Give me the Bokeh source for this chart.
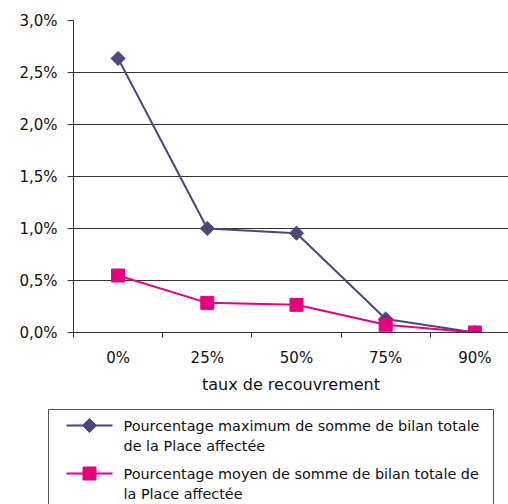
import numpy as np
from bokeh.plotting import figure
from bokeh.models import Range1d, FixedTicker, ColumnDataSource
from bokeh.layouts import column
from bokeh.core.properties import value
from bokeh.embed import file_html
from bokeh.resources import INLINE

categories = ["0%", "25%", "50%", "75%", "90%"]
max_pct = [2.635, 1.0, 0.955, 0.13, 0.0]
mean_pct = [0.548, 0.285, 0.266, 0.074, 0.0]
series_names = ["Pourcentage maximum de somme de bilan totale\nde la Place affectée",
                "Pourcentage moyen de somme de bilan totale de\nla Place affectée"]
y_ticks = [0.0, 0.5, 1.0, 1.5, 2.0, 2.5, 3.0]
y_labels = ["0,0%", "0,5%", "1,0%", "1,5%", "2,0%", "2,5%", "3,0%"]
x_title = "taux de recouvrement"

NAVY = "#4b4778"
PINK = "#e5007d"
GRID = "#333333"
FONT = "DejaVu Sans"

xs = list(range(len(categories)))

p = figure(width=508, height=396, output_backend="svg", toolbar_location=None,
           x_range=Range1d(-0.5, 4.377), y_range=Range1d(0, 3.0),
           min_border_left=73, min_border_right=0, min_border_top=20, min_border_bottom=10)
p.frame_align = False
p.outline_line_color = None
p.background_fill_color = "white"
p.border_fill_color = "white"

p.xgrid.grid_line_color = None
p.ygrid.grid_line_color = GRID
p.ygrid.grid_line_width = 1
p.ygrid.ticker = FixedTicker(ticks=y_ticks)

p.yaxis.ticker = FixedTicker(ticks=y_ticks)
p.yaxis.major_label_overrides = {t: l for t, l in zip(y_ticks, y_labels)}
p.yaxis.major_tick_out = 6
p.yaxis.major_tick_in = 0
p.yaxis.minor_tick_out = 0
p.yaxis.minor_tick_in = 0
p.yaxis.major_label_standoff = 10
p.yaxis.axis_line_color = GRID
p.yaxis.major_tick_line_color = GRID

p.xaxis.ticker = FixedTicker(ticks=xs, minor_ticks=[x - 0.5 for x in xs])
p.xaxis.major_label_overrides = {x: c for x, c in zip(xs, categories)}
p.xaxis.major_tick_out = 0
p.xaxis.major_tick_in = 0
p.xaxis.minor_tick_out = 5
p.xaxis.minor_tick_in = 0
p.xaxis.minor_tick_line_color = GRID
p.xaxis.axis_line_color = GRID
p.xaxis.major_label_standoff = 11
p.xaxis.axis_label = x_title
p.xaxis.axis_label_standoff = 5
p.xaxis.axis_label_text_font_style = "normal"
p.xaxis.axis_label_text_font = FONT
p.xaxis.axis_label_text_font_size = "16px"
p.xaxis.axis_label_text_color = "#111111"

for ax in (p.xaxis, p.yaxis):
    ax.major_label_text_font = FONT
    ax.major_label_text_font_size = "15px"
    ax.major_label_text_color = "#111111"

src = ColumnDataSource(dict(x=xs, mx=max_pct, mn=mean_pct))
p.line("x", "mx", source=src, line_color=NAVY, line_width=2)
p.scatter("x", "mx", source=src, marker="square", angle=np.pi / 4, size=10,
          fill_color=NAVY, line_color=NAVY)
p.line("x", "mn", source=src, line_color=PINK, line_width=2)
p.scatter("x", "mn", source=src, marker="square", size=13,
          fill_color=PINK, line_color=PINK)

# legend drawn in its own panel (canvas pixel coordinates)
lg = figure(width=508, height=108, output_backend="svg", toolbar_location=None,
            x_range=Range1d(0, 508), y_range=Range1d(108, 0),
            min_border=0, min_border_left=0, min_border_right=0,
            min_border_top=0, min_border_bottom=0)
lg.frame_align = False
lg.axis.visible = False
lg.grid.visible = False
lg.outline_line_color = None
lg.quad(left=[48], right=[493], top=[13], bottom=[300], fill_color=None,
        line_color="#555555", line_width=1)

colors = [NAVY, PINK]
markers = ["square", "square"]
angles = [np.pi / 4, 0]
sizes = [10, 13]
for i, name in enumerate(series_names):
    yc = 29 + 48 * i
    lg.line([66, 112], [yc, yc], line_color=colors[i], line_width=2)
    lg.scatter([89], [yc], marker=markers[i], angle=angles[i], size=sizes[i],
               fill_color=colors[i], line_color=colors[i])
    for j, line in enumerate(name.split("\n")):
        lg.text([123], [yc + 20 * j], text=[line], text_baseline="middle",
                text_align="left", text_font=value(FONT),
                text_font_size="14.4px", text_color="#111111")

layout = column(p, lg, spacing=0)
open("out.html", "w").write(file_html(layout, INLINE))
